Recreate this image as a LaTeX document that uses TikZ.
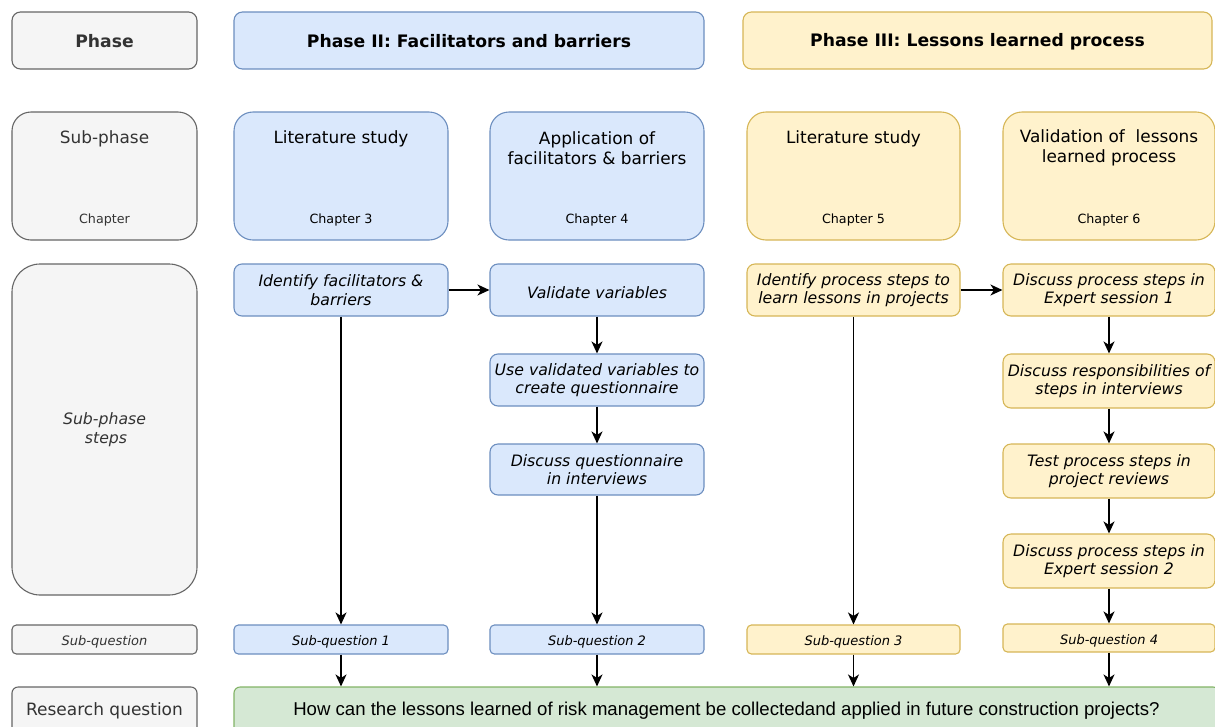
\documentclass[tikz,border=0pt]{standalone}
\usepackage{fontspec}
\setmainfont{DejaVu Sans}
\newfontfamily\arialfont{Liberation Sans}
\usetikzlibrary{arrows.meta}

\definecolor{grayfill}{HTML}{F5F5F5}
\definecolor{graydraw}{HTML}{666666}
\definecolor{graytext}{HTML}{333333}
\definecolor{bluefill}{HTML}{DAE8FC}
\definecolor{bluedraw}{HTML}{6C8EBF}
\definecolor{yelfill}{HTML}{FFF2CC}
\definecolor{yeldraw}{HTML}{D6B656}
\definecolor{greenfill}{HTML}{D5E8D4}
\definecolor{greendraw}{HTML}{82B366}

\tikzset{
  base/.style={draw, line width=1.1pt, inner sep=0pt, align=center},
  graybox/.style={base, fill=grayfill, draw=graydraw, text=graytext},
  bluebox/.style={base, fill=bluefill, draw=bluedraw},
  yelbox/.style={base, fill=yelfill, draw=yeldraw},
  greenbox/.style={base, fill=greenfill, draw=greendraw},
  phasebox/.style={minimum height=57pt, rounded corners=8.5pt,
    font=\fontsize{17.2}{20}\selectfont\bfseries,
    execute at begin node={\rule{0pt}{15pt}}},
  subbox/.style={minimum height=128pt, rounded corners=19pt},
  stepbox/.style={rounded corners=8pt,
    font=\fontsize{15.7}{18.5}\selectfont\itshape,
    execute at begin node={\rule{0pt}{17.5pt}}},
  sqbox/.style={minimum height=29pt, rounded corners=4.4pt,
    font=\fontsize{13}{15}\selectfont\itshape,
    execute at begin node={\rule{0pt}{15.5pt}}},
  titletext/.style={inner sep=0pt, align=center, font=\fontsize{16.9}{20}\selectfont},
  chaptext/.style={inner sep=0pt, align=center, font=\fontsize{12.7}{15}\selectfont},
  arr/.style={-{Stealth[length=12pt,width=11pt,inset=3.5pt]}, line width=1.5pt, draw=black}
}

\begin{document}
\begin{tikzpicture}[x=1pt, y=-1pt]
\useasboundingbox (0,0) rectangle (1215,726);

% Phase row
\node[graybox, phasebox, minimum width=185pt] (phase) at (104.5,40.5) {Phase};
\node[bluebox, phasebox, minimum width=470pt] (ph2) at (469,40.5) {Phase II: Facilitators and barriers};
\node[yelbox, phasebox, minimum width=469pt] (ph3) at (977.5,40.5) {Phase III: Lessons learned process};

% Sub-phase row
\node[graybox, subbox, minimum width=185pt] (subph) at (104.5,176) {};
\node[bluebox, subbox, minimum width=214pt] (lit2) at (341,176) {};
\node[bluebox, subbox, minimum width=214pt] (app) at (597,176) {};
\node[yelbox, subbox, minimum width=213pt] (lit3) at (853.5,176) {};
\node[yelbox, subbox, minimum width=212pt] (val) at (1109,176) {};

\node[titletext, text=graytext] (subph-t) at (104.5,138.5) {Sub-phase};
\node[chaptext, text=graytext] (subph-c) at (104.5,219.5) {Chapter};
\node[titletext] (lit2-t) at (341,138.5) {Literature study};
\node[chaptext] (lit2-c) at (341,219.5) {Chapter 3};
\node[titletext] (app-t) at (597,148) {Application of\\facilitators \& barriers};
\node[chaptext] (app-c) at (597,219.5) {Chapter 4};
\node[titletext] (lit3-t) at (853.5,138.5) {Literature study};
\node[chaptext] (lit3-c) at (853.5,219.5) {Chapter 5};
\node[titletext] (val-t) at (1109,148) {Validation of\ \ lessons\\learned process};
\node[chaptext] (val-c) at (1109,219.5) {Chapter 6};

% Sub-phase steps
\node[graybox, minimum width=185pt, minimum height=331pt, rounded corners=28pt,
  font=\fontsize{15.7}{18.5}\selectfont\itshape,
  execute at begin node={\rule{0pt}{22pt}}] (steps) at (104.5,429.5) {Sub-phase\\\hspace{3pt}steps};

\node[bluebox, stepbox, minimum width=214pt, minimum height=52pt] (idfac) at (341,290)
  {Identify facilitators \&\\barriers};
\node[bluebox, stepbox, minimum width=214pt, minimum height=52pt] (valvar) at (597,290)
  {Validate variables};
\node[bluebox, stepbox, minimum width=214pt, minimum height=52pt] (usevar) at (597,380)
  {Use validated variables to\\create questionnaire};
\node[bluebox, stepbox, minimum width=214pt, minimum height=51pt] (discq) at (597,469.5)
  {Discuss questionnaire\\in interviews};

\node[yelbox, stepbox, minimum width=213pt, minimum height=52pt] (idproc) at (853.5,290)
  {Identify process steps to\\learn lessons in projects};
\node[yelbox, stepbox, minimum width=212pt, minimum height=52pt] (exp1) at (1109,290)
  {Discuss process steps in\\Expert session 1};
\node[yelbox, stepbox, minimum width=212pt, minimum height=54pt] (resp) at (1109,381)
  {Discuss responsibilities of\\steps in interviews};
\node[yelbox, stepbox, minimum width=212pt, minimum height=54pt] (test) at (1109,471)
  {Test process steps in\\project reviews};
\node[yelbox, stepbox, minimum width=212pt, minimum height=54pt] (exp2) at (1109,561)
  {Discuss process steps in\\Expert session 2};

% Sub-questions
\node[graybox, sqbox, minimum width=185pt] (sqlab) at (104.5,639.5) {Sub-question};
\node[bluebox, sqbox, minimum width=214pt] (sq1) at (341,639.5) {Sub-question 1};
\node[bluebox, sqbox, minimum width=214pt] (sq2) at (597,639.5) {Sub-question 2};
\node[yelbox, sqbox, minimum width=213pt] (sq3) at (853.5,639.5) {Sub-question 3};
\node[yelbox, sqbox, minimum width=212pt, minimum height=28pt] (sq4) at (1109,638) {Sub-question 4};

% Research question
\node[graybox, minimum width=185pt, minimum height=46pt, rounded corners=6pt,
  font=\fontsize{17}{20}\selectfont,
  execute at begin node={\rule{0pt}{15pt}}] (rqlab) at (104.5,710) {Research question};
\node[greenbox, minimum width=985pt, minimum height=46pt, rounded corners=6pt,
  font=\arialfont\fontsize{18.6}{22}\selectfont,
  execute at begin node={\rule{0pt}{15.5pt}}] (rq) at (726.5,710)
  {How can the lessons learned of risk management be collectedand applied in future construction projects?};

% Connectors
\draw[arr] (idfac) -- (valvar);
\draw[arr] (idfac) -- (sq1);
\draw[arr] (valvar) -- (usevar);
\draw[arr] (usevar) -- (discq);
\draw[arr] (discq) -- (sq2);
\draw[arr] (idproc) -- (exp1);
\draw[arr] (idproc) -- (sq3);
\draw[arr] (exp1) -- (resp);
\draw[arr] (resp) -- (test);
\draw[arr] (test) -- (exp2);
\draw[arr] (exp2) -- (sq4);
\draw[arr] (sq1.south) -- (sq1.south |- rq.north);
\draw[arr] (sq2.south) -- (sq2.south |- rq.north);
\draw[arr] (sq3.south) -- (sq3.south |- rq.north);
\draw[arr] (sq4.south) -- (sq4.south |- rq.north);
\end{tikzpicture}
\end{document}
